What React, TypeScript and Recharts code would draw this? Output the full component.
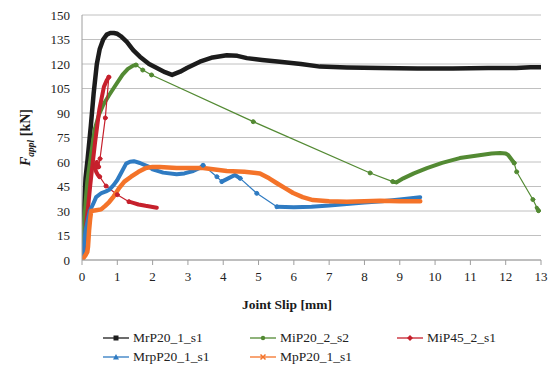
import { LineChart, Line, XAxis, YAxis, CartesianGrid } from 'recharts';

type Pair = [number, number];

const X_TICKS = [0, 1, 2, 3, 4, 5, 6, 7, 8, 9, 10, 11, 12, 13];
const Y_TICKS = [0, 15, 30, 45, 60, 75, 90, 105, 120, 135, 150];

// MrP20_1_s1
const MRP20: Pair[] = [
  [0, 0], [0.03, 15], [0.06, 32], [0.1, 50], [0.16, 62], [0.25, 82], [0.33, 102],
  [0.42, 120], [0.5, 129], [0.6, 135], [0.7, 138], [0.8, 139], [0.9, 139],
  [1.0, 138.5], [1.1, 137], [1.27, 133.5], [1.45, 128.5], [1.64, 124.5], [1.9, 120],
  [2.12, 117.5], [2.35, 115], [2.55, 113.3], [2.78, 115.3], [2.97, 117.5], [3.34, 121.4],
  [3.7, 124], [4.1, 125.3], [4.4, 125], [4.67, 123.6], [5.1, 122.5], [5.6, 121.4],
  [6.2, 120], [6.74, 118.4], [7.5, 117.8], [8.44, 117.5], [9.5, 117.3], [10.5, 117.3],
  [11.5, 117.5], [12.3, 117.5], [12.7, 118], [13.0, 118],
];

// MiP20_2_s2
const MIP20_RISE: Pair[] = [
  [0, 0], [0.05, 18], [0.1, 35], [0.15, 48], [0.2, 56], [0.28, 68], [0.36, 80],
  [0.48, 89], [0.6, 95], [0.77, 101], [0.95, 107], [1.15, 113.5], [1.3, 117],
  [1.45, 119], [1.53, 119.4],
];
const MIP20_DROP: Pair[] = [
  [1.53, 119.4], [1.72, 116.3], [1.97, 113.3], [4.85, 84.7], [8.16, 53.3], [8.8, 48],
];
const MIP20_RECOVER: Pair[] = [
  [8.8, 48], [8.9, 47.5], [9.1, 50], [9.4, 53], [9.77, 56.3], [10.2, 59.5],
  [10.7, 62.4], [11.2, 64], [11.6, 65.2], [11.84, 65.5], [12.0, 65.2], [12.07, 64.3],
  [12.15, 62], [12.24, 59.4],
];
const MIP20_END: Pair[] = [[12.24, 59.4], [12.31, 54], [12.77, 37], [12.93, 30.2]];
const MIP20_TAIL: Pair[] = [[12.88, 32], [12.93, 30.2]];

// MiP45_2_s1
const MIP45_RISE: Pair[] = [
  [0, 0], [0.07, 8], [0.12, 22], [0.18, 34], [0.23, 45], [0.28, 55], [0.37, 72],
  [0.49, 92], [0.62, 106], [0.7, 110], [0.76, 112],
];
const MIP45_BACK: Pair[] = [[0.76, 112], [0.66, 87], [0.51, 62], [0.47, 57]];
const MIP45_KNOT: Pair[] = [[0.47, 57], [0.42, 60], [0.36, 58], [0.4, 54], [0.45, 52], [0.5, 51]];
const MIP45_SLIDE: Pair[] = [[0.5, 51], [0.68, 45.3], [1.0, 40], [1.33, 35.7]];
const MIP45_END: Pair[] = [[1.33, 35.7], [1.45, 35], [1.6, 34], [1.8, 33.2], [2.0, 32.5], [2.12, 32]];

// MrpP20_1_s1
const MRPP20_A: Pair[] = [
  [0, 0], [0.05, 8], [0.1, 18], [0.17, 25], [0.22, 30], [0.31, 34], [0.4, 38.5],
  [0.55, 41], [0.68, 42], [0.77, 43], [0.9, 46], [1.0, 49], [1.1, 53], [1.25, 59],
  [1.36, 60.2], [1.47, 60.5], [1.64, 59.4], [1.9, 57], [2.0, 55.5], [2.3, 53.5],
  [2.68, 52.5], [2.9, 53], [3.15, 54.5], [3.35, 56.5], [3.43, 58],
];
const MRPP20_B: Pair[] = [[3.43, 58], [3.82, 51], [3.96, 48]];
const MRPP20_C: Pair[] = [[3.96, 48], [4.1, 49.5], [4.33, 52], [4.48, 50]];
const MRPP20_D: Pair[] = [[4.48, 50], [4.95, 40.8], [5.52, 32.6]];
const MRPP20_E: Pair[] = [
  [5.52, 32.6], [6.0, 32.3], [6.5, 32.6], [7.0, 33.3], [7.5, 34.3], [8.0, 35.2],
  [8.5, 36], [9.0, 37], [9.58, 38.4],
];

// MpP20_1_s1
const MPP20: Pair[] = [
  [0, 0], [0.1, 3], [0.15, 5], [0.17, 8], [0.2, 18], [0.23, 25], [0.26, 30],
  [0.4, 30.5], [0.54, 31], [0.65, 33], [0.77, 35.5], [0.9, 39], [1.05, 44],
  [1.2, 48], [1.39, 51], [1.6, 54], [1.81, 56.3], [2.0, 57], [2.2, 57],
  [2.68, 56.3], [3.0, 56.3], [3.43, 56.3], [4.1, 54.5], [4.6, 54], [5.04, 53],
  [5.3, 50], [5.52, 47], [5.75, 44], [5.98, 41], [6.25, 38.5], [6.54, 36.7],
  [7.0, 36], [7.5, 35.7], [8.0, 36], [8.44, 36.2], [9.0, 36], [9.58, 36],
];

const BLACK = '#1c1c1c';
const GREEN = '#538a33';
const RED = '#c6202c';
const BLUE = '#2f7bc2';
const ORANGE = '#f47329';

const FONT = '"Liberation Serif", "Times New Roman", serif';

const pts = (p: Pair[]) => p.map(([x, y]) => ({ x, y }));

interface Seg { id: string; data: Pair[]; color: string; thick: boolean; w?: number }

const SEGMENTS: Seg[] = [
  { id: 'mr', data: MRP20, color: BLACK, thick: true, w: 4.5 },
  { id: 'mi1', data: MIP20_RISE, color: GREEN, thick: true },
  { id: 'mi2', data: MIP20_DROP, color: GREEN, thick: false },
  { id: 'mi3', data: MIP20_RECOVER, color: GREEN, thick: true },
  { id: 'mi4', data: MIP20_END, color: GREEN, thick: false },
  { id: 'mi5', data: MIP20_TAIL, color: GREEN, thick: true },
  { id: 'r1', data: MIP45_RISE, color: RED, thick: true },
  { id: 'r2', data: MIP45_BACK, color: RED, thick: false },
  { id: 'r3', data: MIP45_KNOT, color: RED, thick: true },
  { id: 'r4', data: MIP45_SLIDE, color: RED, thick: false },
  { id: 'r5', data: MIP45_END, color: RED, thick: true },
  { id: 'b1', data: MRPP20_A, color: BLUE, thick: true },
  { id: 'b2', data: MRPP20_B, color: BLUE, thick: false },
  { id: 'b3', data: MRPP20_C, color: BLUE, thick: true },
  { id: 'b4', data: MRPP20_D, color: BLUE, thick: false },
  { id: 'b5', data: MRPP20_E, color: BLUE, thick: true },
  { id: 'o', data: MPP20, color: ORANGE, thick: true, w: 4.5 },
];

const LEGEND = [
  { name: 'MrP20_1_s1', color: BLACK, shape: 'square' },
  { name: 'MiP20_2_s2', color: GREEN, shape: 'circle' },
  { name: 'MiP45_2_s1', color: RED, shape: 'diamond' },
  { name: 'MrpP20_1_s1', color: BLUE, shape: 'triangle' },
  { name: 'MpP20_1_s1', color: ORANGE, shape: 'cross' },
];

function YLabel() {
  return (
    <text transform="translate(30,137.5) rotate(-90)" textAnchor="middle"
      fontFamily={FONT} fontWeight="bold" fontSize={14} fill="#1a1a1a">
      <tspan fontStyle="italic">F</tspan>
      <tspan fontStyle="italic" fontSize={9.5} dy={4}>appl</tspan>
      <tspan dy={-4}> [kN]</tspan>
    </text>
  );
}

function XLabel() {
  return (
    <text x={287} y={309} textAnchor="middle" fontFamily={FONT}
      fontWeight="bold" fontSize={13.5} fill="#1a1a1a">
      Joint Slip [mm]
    </text>
  );
}

function Marker({ shape, color }: { shape: string; color: string }) {
  return (
    <svg width={26} height={10} style={{ display: 'block' }}>
      <line x1={0} y1={5} x2={26} y2={5} stroke={color} strokeWidth={1.3} />
      {shape === 'square' && <rect x={10.5} y={2.5} width={5} height={5} fill={color} />}
      {shape === 'circle' && <circle cx={13} cy={5} r={2.2} fill={color} />}
      {shape === 'diamond' && <polygon points="13,2 16,5 13,8 10,5" fill={color} />}
      {shape === 'triangle' && <polygon points="13,2 16,7.5 10,7.5" fill={color} />}
      {shape === 'cross' && <path d="M10.5,2.5 L15.5,7.5 M15.5,2.5 L10.5,7.5" stroke={color} strokeWidth={1.5} />}
    </svg>
  );
}

const LEGEND_COLS = [103, 250, 397];
const LEGEND_ROWS = [338, 357];

export default function App() {
  return (
    <div style={{ position: 'fixed', left: 0, top: 0, width: 550, height: 367, background: '#fff' }}>
      <LineChart width={550} height={367} margin={{ top: 15, right: 9, bottom: 0, left: 0 }}>
        <CartesianGrid vertical={false} stroke="#c0c0c0" strokeWidth={1} />
        <XAxis
          dataKey="x" type="number" domain={[0, 13]} ticks={X_TICKS} interval={0}
          height={107} allowDataOverflow
          tick={{ fill: '#222', fontSize: 13, fontFamily: FONT }}
          axisLine={{ stroke: '#9e9e9e' }} tickLine={{ stroke: '#9e9e9e' }}
          tickSize={5} tickMargin={7}
          label={<XLabel />}
        />
        <YAxis
          dataKey="y" type="number" domain={[0, 150]} ticks={Y_TICKS} interval={0}
          width={82} allowDataOverflow
          tick={{ fill: '#222', fontSize: 13, fontFamily: FONT }}
          axisLine={{ stroke: '#9e9e9e' }} tickLine={false}
          tickSize={6} tickMargin={6}
          label={<YLabel />}
        />
        {SEGMENTS.map((s) => (
          <Line
            key={s.id}
            data={pts(s.data)}
            dataKey="y"
            type="linear"
            stroke={s.color}
            strokeWidth={s.thick ? (s.w ?? 4) : 1.2}
            strokeLinejoin="round"
            strokeLinecap="round"
            dot={s.thick ? false : { r: 2, fill: s.color, stroke: s.color, strokeWidth: 1 }}
            activeDot={false}
            legendType="none"
            isAnimationActive={false}
          />
        ))}
      </LineChart>
      {LEGEND.map((l, i) => (
        <div key={l.name} style={{
          position: 'absolute',
          left: LEGEND_COLS[i % 3],
          top: LEGEND_ROWS[Math.floor(i / 3)] - 9,
          height: 18,
          display: 'flex', alignItems: 'center', gap: 4,
          fontFamily: FONT, fontSize: 13.5, color: '#222', whiteSpace: 'nowrap',
        }}>
          <Marker shape={l.shape} color={l.color} />
          <span>{l.name}</span>
        </div>
      ))}
    </div>
  );
}
